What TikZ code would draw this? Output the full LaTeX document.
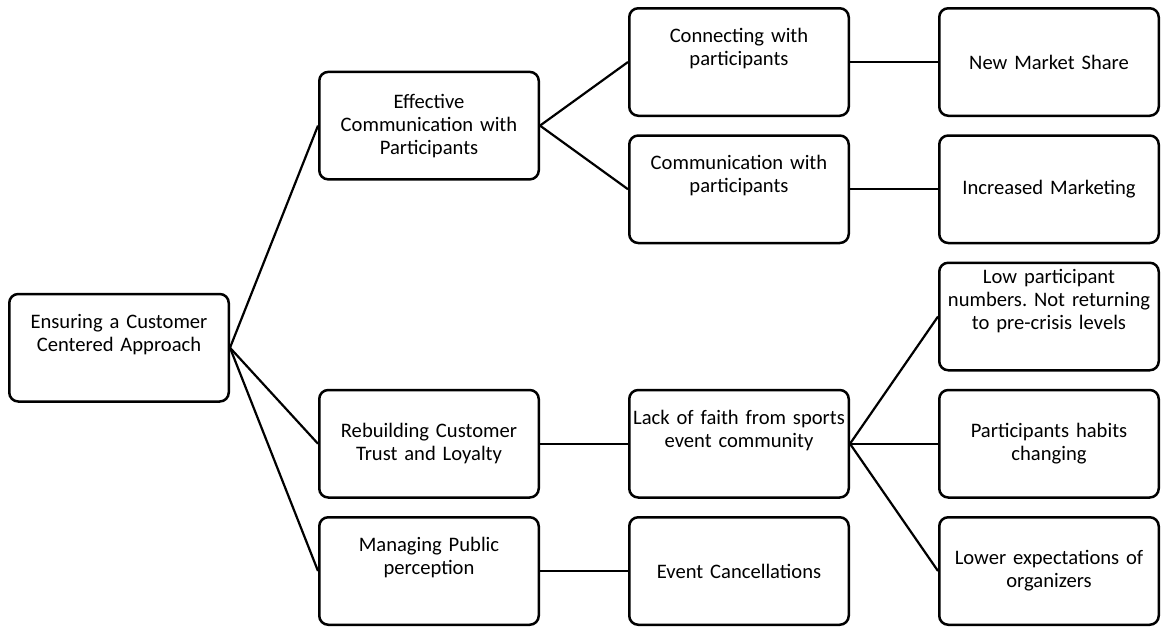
\documentclass[tikz,border=0pt]{standalone}
\usepackage{fontspec}
\setmainfont{Carlito}
\usetikzlibrary{positioning,calc}
\frenchspacing

\begin{document}
\begin{tikzpicture}[
  x=1pt, y=1pt,
  node distance=17.25pt and 88pt,
  box/.style={rectangle, draw, line width=2.5pt, rounded corners=9pt, minimum width=219.5pt, minimum height=107.5pt, text width=215pt, inner xsep=2pt, align=center, font=\fontsize{20.6}{23}\selectfont},
  toptext/.style={inner ysep=0pt, text height=34pt, text depth=73.5pt},
  link/.style={line width=2.2pt}
]
  \useasboundingbox (0,0) rectangle (1162,-627);

  \node[box] (nms) at (1049,-62) {New Market Share};
  \node[box, below=of nms] (incm) {Increased Marketing};
  \node[box, below=of incm, toptext, text height=21pt, text depth=86.5pt] (lowp) {Low participant\\numbers. Not returning\\to pre-crisis levels};
  \node[box, below=of lowp] (habit) {Participants habits\\changing};
  \node[box, below=of habit] (lowexp) {Lower expectations of\\organizers};

  \node[box, toptext, left=of nms] (conn) {Connecting with\\participants};
  \node[box, toptext, left=of incm] (commp) {Communication with\\participants};
  \node[box, toptext, left=of habit] (lack) {Lack of faith from sports\\event community};
  \node[box, left=of lowexp] (evcan) {Event Cancellations};

  \coordinate (effmid) at ($(conn.west)!0.5!(commp.west)$);
  \node[box, left=of effmid] (effc) {Effective\\Communication with\\Participants};
  \node[box, left=of lack] (rebuild) {Rebuilding Customer\\Trust and Loyalty};
  \node[box, toptext, left=of evcan] (manage) {Managing Public\\perception};

  \node[box, toptext, left=of rebuild, yshift=96pt] (root) {Ensuring a Customer\\Centered Approach};

  \draw[link] (root.east) -- (effc.west);
  \draw[link] (root.east) -- (rebuild.west);
  \draw[link] (root.east) -- (manage.west);

  \draw[link] (effc.east) -- (conn.west);
  \draw[link] (effc.east) -- (commp.west);
  \draw[link] (conn.east) -- (nms.west);
  \draw[link] (commp.east) -- (incm.west);

  \draw[link] (rebuild.east) -- (lack.west);
  \draw[link] (manage.east) -- (evcan.west);

  \draw[link] (lack.east) -- (lowp.west);
  \draw[link] (lack.east) -- (habit.west);
  \draw[link] (lack.east) -- (lowexp.west);
\end{tikzpicture}
\end{document}
